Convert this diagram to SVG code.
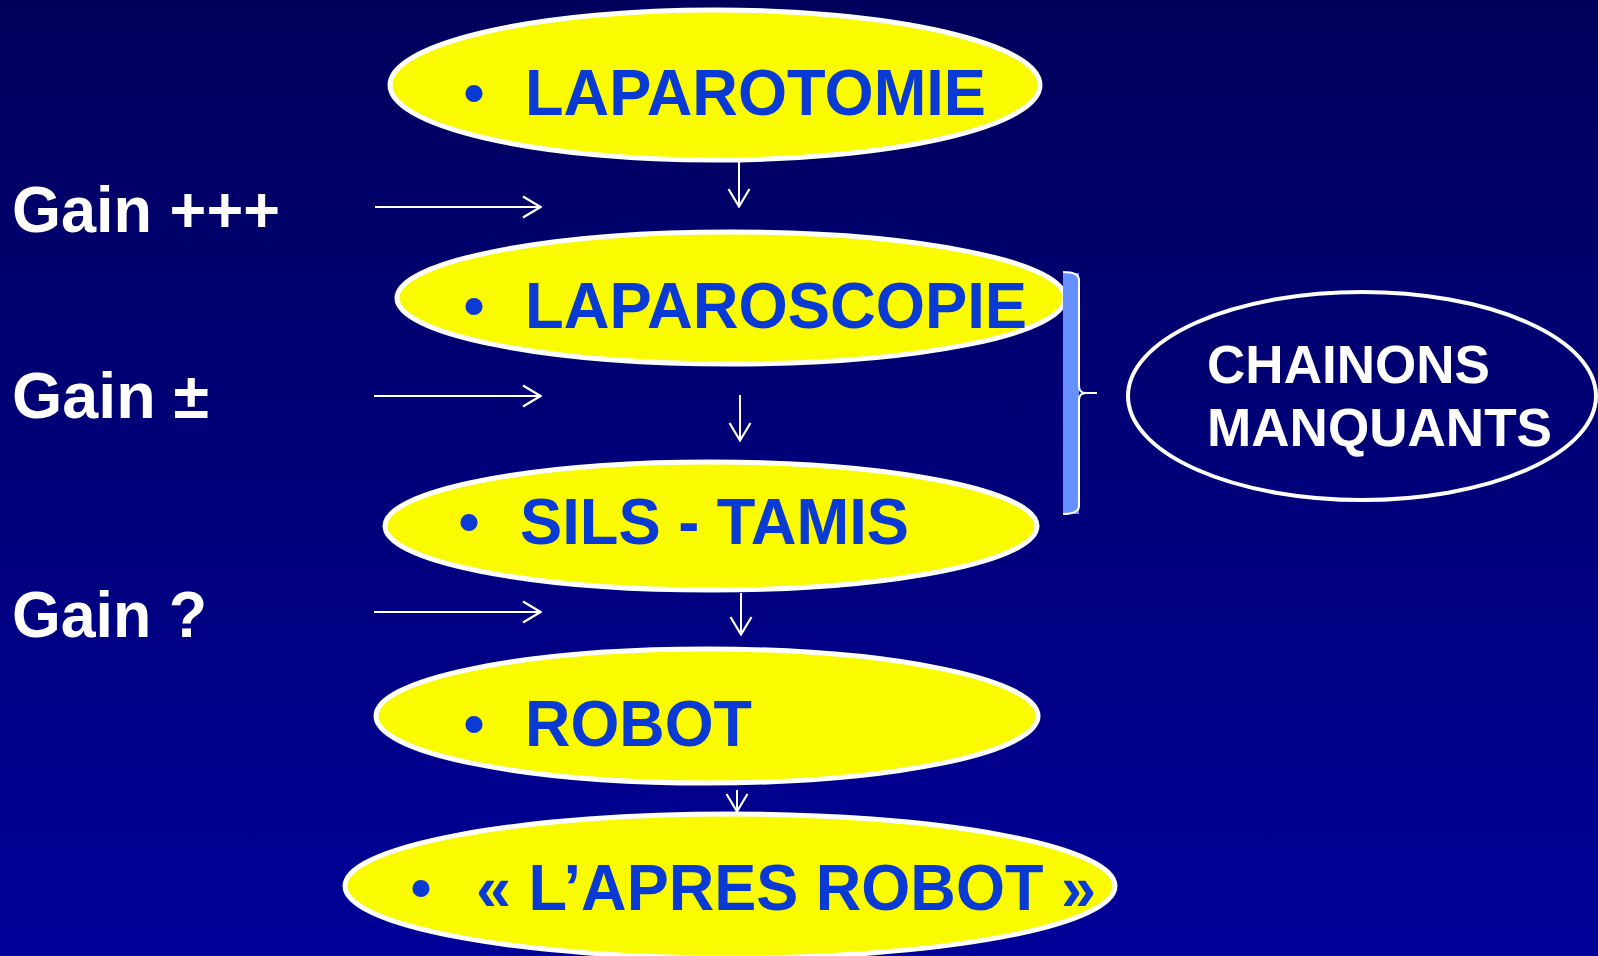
<svg xmlns="http://www.w3.org/2000/svg" width="1598" height="956" viewBox="0 0 1598 956">
  <defs>
    <linearGradient id="bg" x1="0" y1="0" x2="0" y2="1">
      <stop offset="0" stop-color="#00005C"/>
      <stop offset="1" stop-color="#000098"/>
    </linearGradient>
    <marker id="head" viewBox="0 0 20 24" refX="19" refY="12" markerWidth="20" markerHeight="24" markerUnits="userSpaceOnUse" orient="auto">
      <path d="M1,1.5 L18.5,12 L1,22.5" fill="none" stroke="#FFFFFF" stroke-width="2.2"/>
    </marker>
  </defs>
  <style>
    .step { fill: #FAFA00; stroke: #FFFFFF; stroke-width: 5; }
    .step-text { font-family: "Liberation Sans", Arial, sans-serif; font-weight: bold; font-size: 65px; fill: #0A3AD4; }
    .bullet { font-family: "Liberation Sans", Arial, sans-serif; font-weight: bold; font-size: 60px; fill: #0A3AD4; text-anchor: middle; }
    .gain { font-family: "Liberation Sans", Arial, sans-serif; font-weight: bold; font-size: 64px; fill: #FFFFFF; }
    .missing { fill: none; stroke: #FFFFFF; stroke-width: 4; }
    .missing-text { font-family: "Liberation Sans", Arial, sans-serif; font-weight: bold; font-size: 53px; fill: #FFFFFF; }
    .link { fill: none; stroke: #FFFFFF; stroke-width: 2; marker-end: url(#head); }
  </style>

  <rect x="0" y="0" width="1598" height="956" fill="url(#bg)"/>

  <!-- benefit labels -->
  <g id="gain-1"><text class="gain" x="12" y="232" textLength="268" lengthAdjust="spacingAndGlyphs">Gain +++</text></g>
  <g id="gain-2"><text class="gain" x="12" y="418" textLength="197" lengthAdjust="spacingAndGlyphs">Gain ±</text></g>
  <g id="gain-3"><text class="gain" x="12" y="637" textLength="195" lengthAdjust="spacingAndGlyphs">Gain ?</text></g>

  <!-- surgical steps -->
  <g id="laparotomie">
    <ellipse class="step" cx="715" cy="85" rx="325" ry="75"/>
    <text class="bullet" x="474" y="113">•</text>
    <text class="step-text" x="525" y="115" textLength="461" lengthAdjust="spacingAndGlyphs">LAPAROTOMIE</text>
  </g>
  <g id="laparoscopie">
    <ellipse class="step" cx="731" cy="298" rx="334" ry="66"/>
    <text class="bullet" x="474" y="326">•</text>
    <text class="step-text" x="525" y="328" textLength="502" lengthAdjust="spacingAndGlyphs">LAPAROSCOPIE</text>
  </g>
  <g id="sils-tamis">
    <ellipse class="step" cx="711" cy="526" rx="326" ry="64"/>
    <text class="bullet" x="469" y="542">•</text>
    <text class="step-text" x="520" y="544" textLength="389" lengthAdjust="spacingAndGlyphs">SILS - TAMIS</text>
  </g>
  <g id="robot">
    <ellipse class="step" cx="707" cy="716" rx="331" ry="67"/>
    <text class="bullet" x="474" y="744">•</text>
    <text class="step-text" x="525" y="746" textLength="227" lengthAdjust="spacingAndGlyphs">ROBOT</text>
  </g>
  <g id="apres-robot">
    <ellipse class="step" cx="730" cy="886" rx="385" ry="72"/>
    <text class="bullet" x="421" y="908">•</text>
    <text class="step-text" x="476" y="910" textLength="620" lengthAdjust="spacingAndGlyphs">«  L’APRES ROBOT »</text>
  </g>

  <!-- bracket grouping the middle steps -->
  <g id="bracket">
    <rect x="1063" y="273" width="16" height="241" fill="#6690FF"/>
    <path d="M1063,272 Q1079,272 1079,280 L1079,386 Q1079,393 1086,393 L1097,393 M1086,393 Q1079,393 1079,400 L1079,506 Q1079,514 1063,514" fill="none" stroke="#FFFFFF" stroke-width="2"/>
  </g>

  <g id="chainons-manquants">
    <ellipse class="missing" cx="1362" cy="396" rx="234" ry="104"/>
    <text class="missing-text" x="1207" y="383" textLength="283" lengthAdjust="spacingAndGlyphs">CHAINONS</text>
    <text class="missing-text" x="1207" y="446" textLength="345" lengthAdjust="spacingAndGlyphs">MANQUANTS</text>
  </g>

  <!-- connectors -->
  <g id="connectors">
    <line class="link" x1="375" y1="207" x2="541" y2="207"/>
    <line class="link" x1="374" y1="396" x2="541" y2="396"/>
    <line class="link" x1="374" y1="612" x2="541" y2="612"/>
    <line class="link" x1="739" y1="162" x2="739" y2="207"/>
    <line class="link" x1="740" y1="395" x2="740" y2="441"/>
    <line class="link" x1="741" y1="593" x2="741" y2="635"/>
    <line class="link" x1="737" y1="790" x2="737" y2="812"/>
  </g>
</svg>
